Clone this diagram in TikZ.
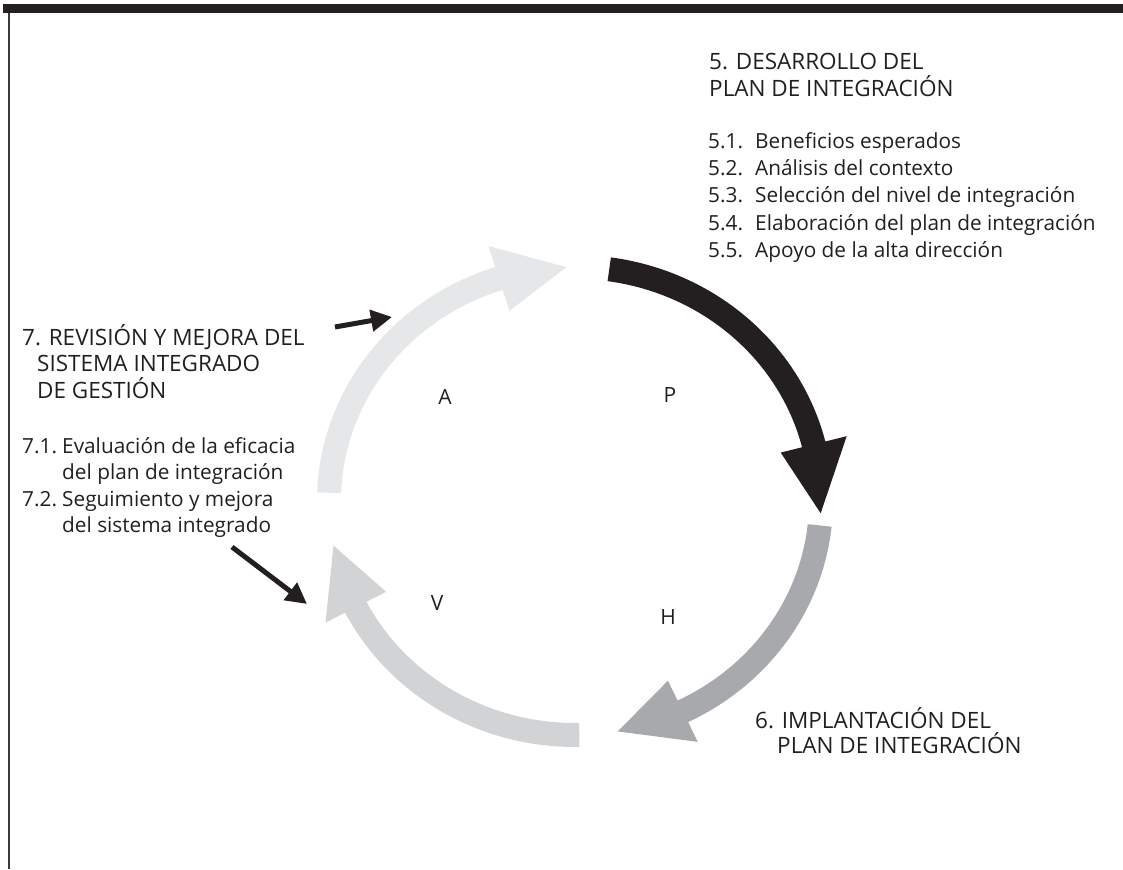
\documentclass[tikz,border=0pt]{standalone}
\usepackage{fontspec}
\setmainfont{Open Sans}
\usepackage{tikz}
\usepackage{xcolor}
\usetikzlibrary{arrows.meta}
\definecolor{Ink}{HTML}{231F20}
\definecolor{Frame}{HTML}{3A3A3A}
\definecolor{PlanShade}{HTML}{231F20}
\definecolor{DoShade}{HTML}{A7A9AC}
\definecolor{CheckShade}{HTML}{D1D3D4}
\definecolor{ActShade}{HTML}{E6E7E8}
\tikzset{
    every node/.style={text=Ink, inner sep=0pt},
    stagehead/.style={align=left, anchor=north west, font=\fontsize{22.5}{27}\selectfont},
    stagelist/.style={align=left, anchor=north west, font=\fontsize{20.8}{27.3}\selectfont},
    cycleletter/.style={font=\fontsize{21}{22}\selectfont},
    pointer/.style={
        -{Triangle[length=21pt,width=21pt]}, line width=5pt, draw=Ink
    },
}

\begin{document}
\begin{tikzpicture}[x=1pt, y=1pt]
    \useasboundingbox (0,0) rectangle (1123,869);

    % Frame
    \fill[Ink] (3,865) rectangle (1123,856);
    \draw[Frame, line width=2pt] (8.5,856) -- (8.5,0);

    % Cycle arrows (start / head base / tip angles)
    \begin{scope}[shift={(575,368)}]
        \foreach \from/\base/\tip/\shade in {82/14/-3/PlanShade, -6/-64/-80/DoShade, -89/-153/-169/CheckShade, 178/108/92/ActShade} {
            \fill[\shade] (\from:258 and 246)
                arc[start angle=\from, end angle=\base, x radius=258, y radius=246]
                -- (\base:280 and 268) -- (\tip:246 and 234) -- (\base:212 and 200)
                -- (\base:234 and 222)
                arc[start angle=\base, end angle=\from, x radius=234, y radius=222]
                -- cycle;
        }
    \end{scope}

    % Letters
    \node[cycleletter] (plan) at (670,474) {P};
    \node[cycleletter] (act) at (445,472) {A};
    \node[cycleletter] (do) at (668,252) {H};
    \node[cycleletter] (check) at (437,266) {V};

    % Stage 5
    \node[stagehead] (develop) at (709,816) {5. DESARROLLO DEL\\
        PLAN DE INTEGRACIÓN};
    \node[stagelist] (developlist) at (708,737) {\makebox[47pt][l]{5.1.}Beneficios esperados\\
        \makebox[47pt][l]{5.2.}Análisis del contexto\\
        \makebox[47pt][l]{5.3.}Selección del nivel de integración\\
        \makebox[47pt][l]{5.4.}Elaboración del plan de integración\\
        \makebox[47pt][l]{5.5.}Apoyo de la alta dirección};

    % Stage 6
    \node[stagehead, font=\fontsize{22.5}{25}\selectfont] (implement) at (755,162) {6. IMPLANTACIÓN DEL\\
        \hspace*{22pt}PLAN DE INTEGRACIÓN};

    % Stage 7
    \node[stagehead, font=\fontsize{22.5}{26.5}\selectfont] (review) at (22,545) {7. REVISIÓN Y MEJORA DEL\\
        \hspace*{15pt}SISTEMA INTEGRADO\\
        \hspace*{15pt}DE GESTIÓN};
    \node[stagelist, font=\fontsize{20.8}{26.5}\selectfont] (reviewlist) at (22,432) {\makebox[40pt][l]{7.1.}Evaluación de la eficacia\\
        \hspace*{40pt}del plan de integración\\
        \makebox[40pt][l]{7.2.}Seguimiento y mejora\\
        \hspace*{40pt}del sistema integrado};

    % Pointers
    \coordinate (revfrom) at (335,542);
    \coordinate (revto) at (392,552);
    \coordinate (evalfrom) at (232,322);
    \coordinate (evalto) at (307,265);
    \draw[pointer] (revfrom) -- (revto);
    \draw[pointer] (evalfrom) -- (evalto);
\end{tikzpicture}
\end{document}
